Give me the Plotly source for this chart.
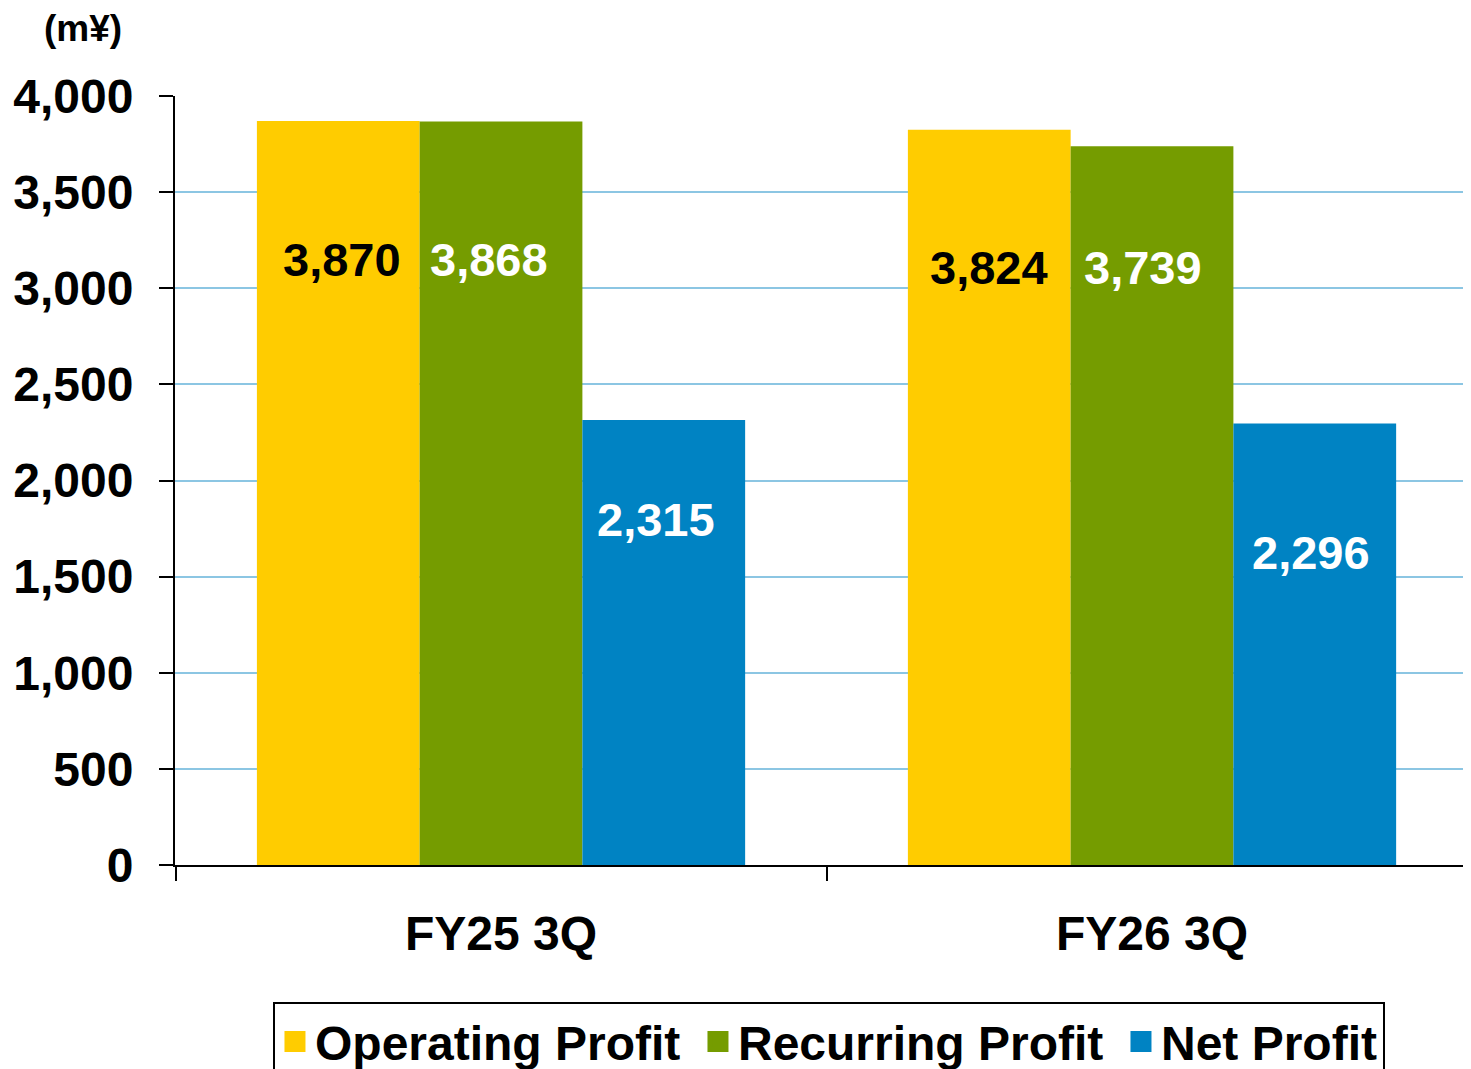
import plotly.graph_objects as go

# values in m¥
periods = ['FY25 3Q', 'FY26 3Q']
operating_profit = [3870, 3824]
recurring_profit = [3868, 3739]
net_profit = [2315, 2296]

series_names = ['Operating Profit', 'Recurring Profit', 'Net Profit']
series_values = [operating_profit, recurring_profit, net_profit]
colors = ['#FFCC00', '#759C00', '#0083C3']
label_colors = ['black', 'white', 'white']
# where the value labels sit inside the bars (data units / px nudges)
label_y = [[3150, 3109], [3150, 3109], [1798, 1627]]
label_dx = [[4, 0], [-12, -9], [-8, -4]]

FONT = 'Liberation Sans, Arial, sans-serif'

fig = go.Figure()
for name, vals, col in zip(series_names, series_values, colors):
    fig.add_trace(go.Bar(x=periods, y=vals, name=name, showlegend=False,
                         marker=dict(color=col, line=dict(width=0))))

# legend entries (bigger squares than the bar legend icon)
entry_w = [378, 378, 0]
for name, col, w in zip(series_names, colors, entry_w):
    fig.add_trace(go.Scatter(x=[None], y=[None], mode='markers', name=name,
                             legendwidth=w,
                             marker=dict(symbol='square', size=16, color=col,
                                         line=dict(width=5, color=col))))

# value labels
for j, vals in enumerate(series_values):
    for i, v in enumerate(vals):
        fig.add_annotation(x=i + (j - 1) * 0.25, y=label_y[j][i],
                           xshift=label_dx[j][i],
                           text=f'{v:,}', showarrow=False,
                           xref='x', yref='y', yanchor='middle',
                           font=dict(family=FONT, size=47, weight='bold',
                                     color=label_colors[j]))

fig.add_annotation(text='(m¥)', xref='paper', yref='paper',
                   x=-0.071, y=1.088, xanchor='center', yanchor='middle',
                   showarrow=False,
                   font=dict(family=FONT, size=37, weight='bold', color='black'))

fig.update_layout(
    width=1463, height=1061,
    margin=dict(l=167, r=0, t=88, b=204, autoexpand=False),
    paper_bgcolor='white', plot_bgcolor='white',
    barmode='group', bargap=0.25, bargroupgap=0,
    font=dict(family=FONT, color='black'),
    showlegend=True,
    legend=dict(orientation='h', x=0.0756, xanchor='left',
                y=-0.178, yanchor='top', itemsizing='trace',
                bordercolor='black', borderwidth=2,
                font=dict(family=FONT, size=48, weight='bold', color='black'),
                traceorder='normal'),
)
fig.update_xaxes(range=[-0.5008, 1.49], showline=True, linecolor='black',
                 linewidth=2, ticks='outside', tickson='boundaries',
                 ticklen=14, tickwidth=2, tickcolor='black',
                 ticklabelstandoff=25,
                 tickfont=dict(family=FONT, size=48, weight='bold', color='black'),
                 showgrid=False)
fig.update_yaxes(range=[0, 4000], tickvals=list(range(0, 4001, 500)),
                 tickformat=',', showline=True, linecolor='black', linewidth=2,
                 ticks='outside', ticklen=14, tickwidth=2, tickcolor='black',
                 ticklabelstandoff=16,
                 showgrid=True, gridcolor='#8CC6E3', gridwidth=2,
                 zeroline=False,
                 tickfont=dict(family=FONT, size=48, weight='bold', color='black'))

fig.write_html('out.html')
